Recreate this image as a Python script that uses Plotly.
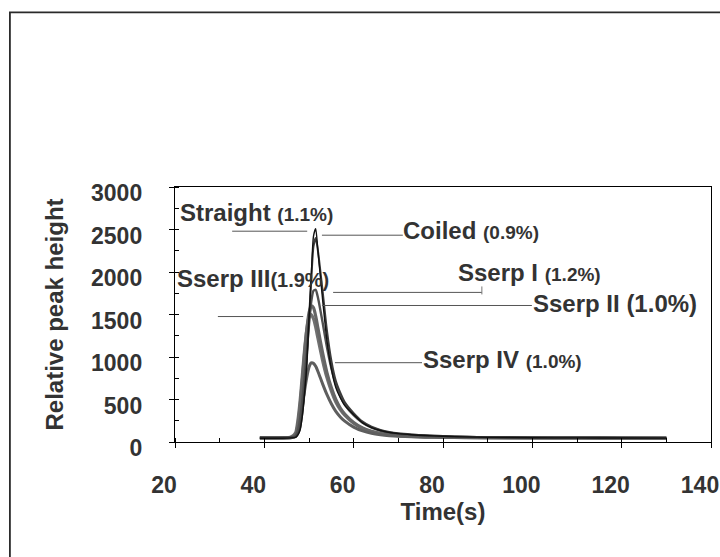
import plotly.graph_objects as go

# ---------------- data ----------------
time_s = [39, 44, 46, 47, 47.5, 48, 48.5, 49, 49.5, 50, 50.5, 51, 51.5, 52, 53, 54, 55, 56, 57, 58,
          60, 62, 64, 66, 68, 70, 73, 76, 80, 85, 90, 100, 110, 120, 130]

straight = [45, 45, 48, 55, 80, 140, 300, 560, 900, 1450, 1950, 2420, 2510, 2250, 1700, 1200, 860, 640, 520, 430,
            320, 225, 170, 135, 112, 98, 85, 76, 68, 60, 55, 50, 48, 47, 46]
coiled = [50, 50, 52, 58, 90, 160, 330, 600, 950, 1450, 1900, 2300, 2400, 2250, 1800, 1320, 960, 720, 580, 470,
          340, 240, 180, 142, 118, 102, 88, 78, 70, 62, 57, 52, 50, 49, 48]
sserp_1 = [50, 50, 55, 70, 130, 260, 480, 760, 1060, 1380, 1650, 1780, 1790, 1700, 1420, 1120, 870, 680, 540, 440,
           315, 225, 168, 132, 110, 96, 84, 75, 68, 60, 56, 52, 50, 49, 48]
sserp_2 = [48, 48, 55, 90, 200, 420, 720, 1040, 1320, 1520, 1600, 1580, 1480, 1340, 1060, 820, 640, 500, 400, 330,
           230, 165, 125, 100, 85, 76, 68, 62, 58, 54, 52, 50, 48, 47, 46]
sserp_3 = [50, 50, 60, 110, 250, 480, 780, 1080, 1320, 1470, 1500, 1450, 1350, 1220, 970, 760, 600, 470, 380, 315,
           220, 158, 120, 96, 82, 74, 66, 61, 57, 53, 51, 49, 48, 47, 46]
sserp_4 = [45, 45, 50, 70, 130, 250, 420, 600, 760, 880, 930, 925, 890, 830, 690, 560, 450, 360, 295, 245,
           175, 130, 102, 85, 74, 67, 61, 57, 54, 51, 49, 47, 46, 45, 45]

series_names = ["Sserp III", "Sserp II", "Sserp IV", "Sserp I", "Coiled", "Straight"]
series_values = [sserp_3, sserp_2, sserp_4, sserp_1, coiled, straight]
series_colors = ["#707070", "#666666", "#5e5e5e", "#505050", "#3c3c3c", "#111111"]
series_widths = [3.2, 3.2, 3.0, 2.4, 2.0, 1.4]

x_ticks = [20, 40, 60, 80, 100, 120, 140]
y_ticks = [0, 500, 1000, 1500, 2000, 2500, 3000]

FONT = "Liberation Sans, Arial, sans-serif"
TXT = "#333333"

fig = go.Figure()
for name, vals, col, w in zip(series_names, series_values, series_colors, series_widths):
    fig.add_trace(go.Scatter(x=time_s, y=vals, mode="lines", name=name,
                             line=dict(color=col, width=w, shape="spline", smoothing=0.6)))

# ---------------- labels (text, anchor x, anchor y) ----------------
labels = [
    ("<b>Straight</b> <b><span style='font-size:19px'>(1.1%)</span></b>", 20.7, 2700),
    ("<b>Coiled</b> <b><span style='font-size:19px'>(0.9%)</span></b>", 70.6, 2492),
    ("<b>Sserp I</b> <b><span style='font-size:19px'>(1.2%)</span></b>", 83.0, 1996),
    ("<b>Sserp II (1.0%)</b>", 99.7, 1630),
    ("<b>Sserp IV</b> <b><span style='font-size:19px'>(1.0%)</span></b>", 75.1, 968),
    ("<b>Sserp III</b><b><span style='font-size:20px'>(1.9%)</span></b>", 20.0, 1925),
]
for txt, lx, ly in labels:
    fig.add_annotation(x=lx, y=ly, xref="x", yref="y", text=txt, showarrow=False,
                       xanchor="left", yanchor="middle",
                       font=dict(family=FONT, size=24, color=TXT))

# leader lines (x0, x1, y)
leaders = [
    (32.8, 49.6, 2480),
    (52.9, 71.0, 2433),
    (29.6, 48.7, 1476),
    (55.4, 88.7, 1760),
    (52.9, 99.9, 1606),
    (55.8, 75.3, 933),
]
for x0, x1, yy in leaders:
    fig.add_shape(type="line", xref="x", yref="y", x0=x0, x1=x1, y0=yy, y1=yy,
                  line=dict(color="#555555", width=1))
fig.add_shape(type="line", xref="x", yref="y", x0=88.7, x1=88.7, y0=1736, y1=1830,
              line=dict(color="#777777", width=1))

# outer frame of the figure
fig.add_shape(type="rect", xref="paper", yref="paper", x0=-0.308, x1=1.03, y0=-0.52, y1=1.685,
              line=dict(color="#2a2a2a", width=1.8), layer="below")

fig.update_layout(
    width=720, height=557,
    margin=dict(l=175, r=9, t=187, b=115, autoexpand=False),
    paper_bgcolor="white", plot_bgcolor="white",
    showlegend=False,
    font=dict(family=FONT, color=TXT),
)
fig.update_xaxes(
    range=[20, 140], tickvals=x_ticks, ticktext=[str(v) for v in x_ticks],
    showgrid=False, zeroline=False, automargin=False,
    showline=True, linecolor="black", linewidth=1.4, mirror=True,
    ticks="outside", ticklen=5, tickcolor="black",
    minor=dict(dtick=10, tick0=20, ticks="inside", ticklen=4, tickcolor="black", showgrid=False),
    tickfont=dict(family=FONT, size=23, color=TXT, weight="bold"),
    ticklabelstandoff=17, ticklabelshift=-11, ticklabeloverflow="allow",
    title=dict(text="<b>Time(s)</b>", font=dict(family=FONT, size=24, color=TXT), standoff=4),
)
fig.update_yaxes(
    range=[0, 3000], tickvals=y_ticks, ticktext=[str(v) for v in y_ticks],
    showgrid=False, zeroline=False, automargin=False,
    showline=True, linecolor="black", linewidth=1.4, mirror=True,
    ticks="outside", ticklen=5, tickcolor="black",
    minor=dict(dtick=250, tick0=0, ticks="inside", ticklen=4, tickcolor="black", showgrid=False),
    tickfont=dict(family=FONT, size=23, color=TXT, weight="bold"),
    ticklabelstandoff=22, ticklabelshift=6, ticklabeloverflow="allow",
    title=dict(text="<b>Relative peak height</b>", font=dict(family=FONT, size=24, color=TXT), standoff=20),
)

fig.write_html("out.html")
